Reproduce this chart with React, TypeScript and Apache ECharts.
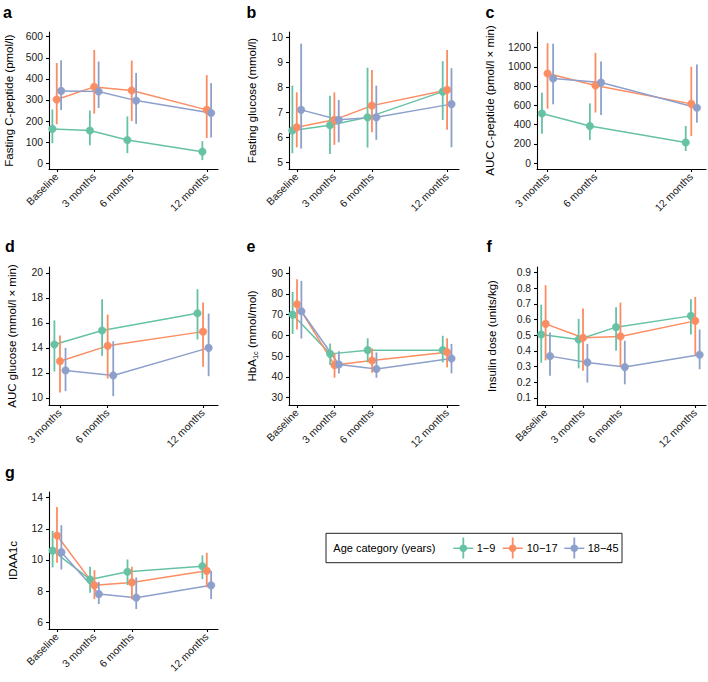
import React, { useEffect, useRef } from "react";
import * as echarts from "echarts";

const ageGroups = ["1−9", "10−17", "18−45"];
const groupColors = ["#66C2A5", "#FC8D62", "#8DA0CB"];
const timesAll = [0, 3, 6, 12];
const timesPost = [3, 6, 12];
const timeNames: Record<number, string> = { 0: "Baseline", 3: "3 months", 6: "6 months", 12: "12 months" };

// a: Fasting C-peptide (pmol/l)
const cpepMean = [[163, 155, 110, 55], [302, 362, 345, 253], [343, 340, 297, 238]];
const cpepLow = [[95, 85, 48, 15], [185, 235, 200, 120], [252, 262, 187, 122]];
const cpepHigh = [[255, 250, 222, 105], [475, 537, 487, 418], [488, 482, 428, 380]];
const cpepTicks = [0, 100, 200, 300, 400, 500, 600];

// b: Fasting glucose (mmol/l)
const fgMean = [[6.27, 6.48, 6.8, 7.83], [6.4, 6.7, 7.27, 7.9], [7.1, 6.7, 6.8, 7.33]];
const fgLow = [[5.36, 5.33, 5.59, 6.69], [5.6, 5.7, 6.2, 6.3], [5.55, 5.8, 5.9, 5.6]];
const fgHigh = [[8.07, 7.67, 8.79, 9.05], [7.8, 7.8, 8.7, 9.5], [9.75, 7.5, 8.07, 8.77]];
const fgTicks = [5, 6, 7, 8, 9, 10];

// c: AUC C-peptide (pmol/l x min)
const aucCpMean = [[515, 384, 214], [930, 806, 615], [878, 837, 574]];
const aucCpLow = [[305, 240, 125], [565, 525, 280], [610, 500, 420]];
const aucCpHigh = [[730, 620, 385], [1245, 1145, 1000], [1240, 1055, 1025]];
const aucCpTicks = [0, 200, 400, 600, 800, 1000, 1200];

// d: AUC glucose (mmol/l x min)
const aucGlMean = [[14.27, 15.39, 16.77], [12.93, 14.16, 15.3], [12.19, 11.79, 14.0]];
const aucGlLow = [[12.1, 13.36, 14.67], [10.43, 11.55, 12.48], [10.53, 10.13, 11.73]];
const aucGlHigh = [[16.2, 17.9, 18.7], [15.0, 16.67, 17.63], [14.0, 14.53, 16.75]];
const aucGlTicks = [10, 12, 14, 16, 18, 20];

// e: HbA1c (mmol/mol)
const hbMean = [[70, 51.1, 52.9, 52.9], [75, 45.7, 47.9, 51.9], [71.6, 46, 43.8, 48.9]];
const hbLow = [[60.7, 45.7, 47, 47], [62.8, 39.6, 42, 44.6], [58.5, 41.7, 39.6, 41.7]];
const hbHigh = [[80.9, 56.1, 58.6, 59.8], [87, 51.3, 53.7, 58.6], [86.2, 52.4, 51.8, 55.9]];
const hbTicks = [30, 40, 50, 60, 70, 80, 90];

// f: Insulin dose (units/kg)
const insMean = [[0.505, 0.473, 0.552, 0.624], [0.573, 0.484, 0.493, 0.592], [0.367, 0.327, 0.297, 0.376]];
const insLow = [[0.325, 0.289, 0.401, 0.505], [0.34, 0.274, 0.3, 0.375], [0.242, 0.198, 0.187, 0.283]];
const insHigh = [[0.696, 0.605, 0.679, 0.73], [0.82, 0.671, 0.709, 0.745], [0.518, 0.444, 0.465, 0.537]];
const insTicks = [0.1, 0.2, 0.3, 0.4, 0.5, 0.6, 0.7, 0.8, 0.9];

// g: IDAA1c
const idaMean = [[10.6, 8.75, 9.24, 9.6], [11.57, 8.37, 8.56, 9.3], [10.5, 7.81, 7.58, 8.37]];
const idaLow = [[9.52, 7.9, 8.39, 8.77], [9.82, 7.49, 7.47, 8.24], [9.39, 7.17, 6.85, 7.49]];
const idaHigh = [[11.87, 9.56, 10.03, 10.29], [13.4, 9.35, 9.56, 10.46], [12.23, 8.6, 8.88, 9.3]];
const idaTicks = [6, 8, 10, 12, 14];

const dodge = [-0.35, 0, 0.35];
const FONT = "Liberation Sans, Arial, Helvetica, sans-serif";

type Panel = {
  letter: string;
  title: string;
  rich?: boolean;
  grid: { left: number; top: number; width: number; height: number };
  xMin: number; xMax: number; yMin: number; yMax: number;
  yTicks: number[]; times: number[];
  mean: number[][]; low: number[][]; high: number[][];
  letterPos: [number, number];
  titleX: number;
  dec?: number;
};

const panels: Panel[] = [
  { letter: "a", title: "Fasting C-peptide (pmol/l)", grid: { left: 49, top: 32, width: 169, height: 137 },
    xMin: -0.62, xMax: 12.9, yMin: -27, yMax: 622, yTicks: cpepTicks, times: timesAll,
    mean: cpepMean, low: cpepLow, high: cpepHigh, letterPos: [3, 12.8], titleX: 9 },
  { letter: "b", title: "Fasting glucose (mmol/l)", grid: { left: 289, top: 32, width: 170, height: 137 },
    xMin: -0.62, xMax: 12.95, yMin: 4.73, yMax: 10.22, yTicks: fgTicks, times: timesAll,
    mean: fgMean, low: fgLow, high: fgHigh, letterPos: [246.5, 12.8], titleX: 251.7 },
  { letter: "c", title: "AUC C-peptide (pmol/l × min)", grid: { left: 537, top: 32, width: 169, height: 137 },
    xMin: 2.34, xMax: 12.92, yMin: -62, yMax: 1362, yTicks: aucCpTicks, times: timesPost,
    mean: aucCpMean, low: aucCpLow, high: aucCpHigh, letterPos: [485.5, 12.8], titleX: 490 },
  { letter: "d", title: "AUC glucose (mmol/l × min)", grid: { left: 49, top: 267, width: 169, height: 138 },
    xMin: 2.31, xMax: 12.94, yMin: 9.42, yMax: 20.48, yTicks: aucGlTicks, times: timesPost,
    mean: aucGlMean, low: aucGlLow, high: aucGlHigh, letterPos: [5, 246.2], titleX: 11.7 },
  { letter: "e", title: "HbA1c", rich: true, grid: { left: 289, top: 267, width: 170, height: 138 },
    xMin: -0.64, xMax: 12.95, yMin: 26.5, yMax: 92.9, yTicks: hbTicks, times: timesAll,
    mean: hbMean, low: hbLow, high: hbHigh, letterPos: [246.5, 246.2], titleX: 251.7 },
  { letter: "f", title: "Insulin dose (units/kg)", grid: { left: 537, top: 267, width: 169, height: 138 },
    xMin: -0.69, xMax: 12.86, yMin: 0.055, yMax: 0.936, yTicks: insTicks, times: timesAll,
    mean: insMean, low: insLow, high: insHigh, letterPos: [486.5, 246.2], titleX: 491.7, dec: 1 },
  { letter: "g", title: "IDAA1c", grid: { left: 49, top: 492, width: 169, height: 137 },
    xMin: -0.64, xMax: 12.9, yMin: 5.57, yMax: 14.36, yTicks: idaTicks, times: timesAll,
    mean: idaMean, low: idaLow, high: idaHigh, letterPos: [5, 472.8], titleX: 13.3 },
];

const legendKeyX = [463.3, 512.7, 574.3];
const legendTextX = [476.7, 526.7, 587.7];

export default function App() {
  const ref = useRef<HTMLDivElement>(null);
  useEffect(() => {
    if (!ref.current) return;
    const chart = echarts.init(ref.current, undefined, { renderer: "svg" });
    const grids: any[] = [];
    const xAxes: any[] = [];
    const yAxes: any[] = [];
    const series: any[] = [];
    const graphics: any[] = [];
    const axisCol = "#000";
    const labCol = "#1a1a1a";

    panels.forEach((p, i) => {
      grids.push({ ...p.grid, containLabel: false });
      xAxes.push({
        gridIndex: i, type: "value", min: p.xMin, max: p.xMax,
        axisLine: { show: true, onZero: false, lineStyle: { color: axisCol, width: 1.1 } },
        axisTick: { show: true, length: 3, customValues: p.times, lineStyle: { color: axisCol, width: 1.1 } },
        axisLabel: { customValues: p.times, rotate: 45, fontSize: 10.5, color: labCol, margin: 6, fontFamily: FONT,
          formatter: (v: number) => timeNames[Math.round(v)] ?? "" },
        splitLine: { show: false },
      });
      yAxes.push({
        gridIndex: i, type: "value", min: p.yMin, max: p.yMax,
        axisLine: { show: true, onZero: false, lineStyle: { color: axisCol, width: 1.1 } },
        axisTick: { show: true, length: 3, customValues: p.yTicks, lineStyle: { color: axisCol, width: 1.1 } },
        axisLabel: { customValues: p.yTicks, fontSize: 10.3, color: labCol, margin: 6, fontFamily: FONT,
          formatter: (v: number) => (p.dec ? v.toFixed(p.dec) : String(Math.round(v))) },
        splitLine: { show: false },
      });
      ageGroups.forEach((g, gi) => {
        series.push({
          type: "line", name: g, xAxisIndex: i, yAxisIndex: i, z: 2,
          data: p.times.map((t, k) => [t + dodge[gi], p.mean[gi][k]]),
          showSymbol: false, symbol: "none",
          lineStyle: { color: groupColors[gi], width: 1.5 },
          itemStyle: { color: groupColors[gi] },
        });
      });
      ageGroups.forEach((g, gi) => {
        series.push({
          type: "custom", name: g, xAxisIndex: i, yAxisIndex: i, z: 3, clip: false,
          data: p.times.map((t, k) => [t + dodge[gi], p.low[gi][k], p.high[gi][k], p.mean[gi][k]]),
          encode: { x: 0, y: [1, 2, 3] },
          renderItem: (params: any, api: any) => {
            const x = api.value(0);
            const a = api.coord([x, api.value(1)]);
            const b = api.coord([x, api.value(2)]);
            const m = api.coord([x, api.value(3)]);
            return {
              type: "group",
              children: [
                { type: "line", shape: { x1: a[0], y1: a[1], x2: b[0], y2: b[1] },
                  style: { stroke: groupColors[gi], lineWidth: 1.8 } },
                { type: "circle", shape: { cx: m[0], cy: m[1], r: 3.8 },
                  style: { fill: groupColors[gi], stroke: groupColors[gi], lineWidth: 0.5 } },
              ],
            };
          },
        });
      });
      graphics.push({
        type: "text", x: p.letterPos[0], y: p.letterPos[1],
        style: { text: p.letter, fontSize: 16, fontWeight: "bold", fontFamily: FONT, fill: "#000",
          align: "left", verticalAlign: "middle" },
      });
      const cy = p.grid.top + p.grid.height / 2;
      if (p.rich) {
        graphics.push({
          type: "text", x: p.titleX, y: cy, rotation: Math.PI / 2,
          style: {
            text: "{a|HbA}{s|1c}{a| (mmol/mol)}", align: "center", verticalAlign: "middle",
            fontFamily: FONT, fill: "#000",
            rich: {
              a: { fontSize: 11.5, fontFamily: FONT, fill: "#000", lineHeight: 16, verticalAlign: "middle" },
              s: { fontSize: 7.5, fontFamily: FONT, fill: "#000", lineHeight: 9, verticalAlign: "bottom" },
            },
          },
        });
      } else {
        graphics.push({
          type: "text", x: p.titleX, y: cy, rotation: Math.PI / 2,
          style: { text: p.title, fontSize: 11.5, fontFamily: FONT, fill: "#000", align: "center", verticalAlign: "middle" },
        });
      }
    });

    graphics.push({
      type: "rect", shape: { x: 326, y: 533.3, width: 296, height: 29.4 },
      style: { fill: "#fff", stroke: "#222", lineWidth: 1 }, z: 10,
    });
    graphics.push({
      type: "text", x: 333.3, y: 548.3, z: 11,
      style: { text: "Age category (years)", fontSize: 11, fontFamily: FONT, fill: "#000", align: "left", verticalAlign: "middle" },
    });
    ageGroups.forEach((g, gi) => {
      const cx = legendKeyX[gi];
      graphics.push({ type: "line", z: 11, shape: { x1: cx - 10, y1: 548.3, x2: cx + 10, y2: 548.3 },
        style: { stroke: groupColors[gi], lineWidth: 1.5 } });
      graphics.push({ type: "line", z: 11, shape: { x1: cx, y1: 537.5, x2: cx, y2: 558.5 },
        style: { stroke: groupColors[gi], lineWidth: 1.8 } });
      graphics.push({ type: "circle", z: 12, shape: { cx, cy: 548.3, r: 3.8 },
        style: { fill: groupColors[gi] } });
      graphics.push({ type: "text", z: 11, x: legendTextX[gi], y: 548.3,
        style: { text: g, fontSize: 11, fontFamily: FONT, fill: "#000", align: "left", verticalAlign: "middle" } });
    });

    chart.setOption({
      animation: false,
      textStyle: { fontFamily: FONT },
      grid: grids,
      xAxis: xAxes,
      yAxis: yAxes,
      series,
      graphic: graphics,
    });
    return () => chart.dispose();
  }, []);
  return (
    <div ref={ref} style={{ position: "fixed", left: 0, top: 0, width: 708, height: 682, background: "#fff" }} />
  );
}
